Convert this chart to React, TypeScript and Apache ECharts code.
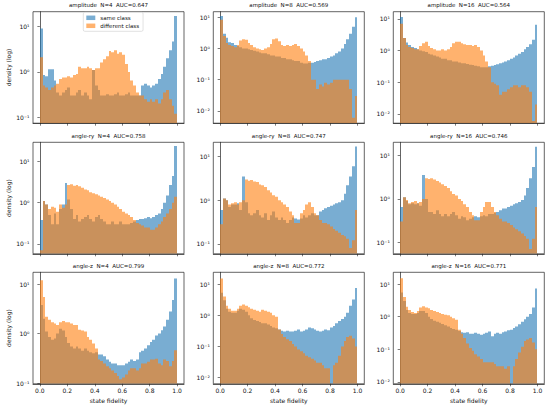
import React, { useEffect, useRef } from "react";
import * as echarts from "echarts";

// ---- data (50 bins of width 0.02 on [0, 1]) ----
const BIN_WIDTH = 0.02;
const X_TICKS = [0, 0.2, 0.4, 0.6, 0.8, 1.0];
const Y_TICKS = [0.01, 0.1, 1, 10];
const LEGEND_NAMES = ["same class", "different class"];
const TITLES = [
  "amplitude  N=4  AUC=0.647",
  "amplitude  N=8  AUC=0.569",
  "amplitude  N=16  AUC=0.564",
  "angle-ry  N=4  AUC=0.758",
  "angle-ry  N=8  AUC=0.747",
  "angle-ry  N=16  AUC=0.746",
  "angle-z  N=4  AUC=0.799",
  "angle-z  N=8  AUC=0.772",
  "angle-z  N=16  AUC=0.771",
];
const Y_MIN = [0.074, 0.004, 0.0051, 0.057, 0.059, 0.054, 0.097, 0.0063, 0.0087];
const Y_MAX = [21.2, 15.2, 16.9, 29.6, 21.3, 20.4, 17.3, 23.8, 23];

const SAME_AMP4 = [
  9.0, 0.85, 0.8, 1.15, 1.15, 0.65, 0.35, 0.3, 0.35, 0.4,
  0.45, 0.3, 0.3, 0.35, 0.4, 0.3, 0.35, 0.3, 0.25, 1.1,
  0.5, 0.4, 0.3, 0.3, 0.32, 0.3, 0.3, 0.32, 0.35, 0.3,
  0.3, 0.32, 0.35, 0.3, 0.3, 0.3, 0.3, 0.5, 0.55, 0.5,
  0.45, 0.5, 0.55, 0.7, 0.9, 1.3, 2.0, 3.0, 4.7, 17,
];
const DIFF_AMP4 = [
  2.1, 0.5, 0.45, 0.4, 0.45, 0.5, 0.55, 0.7, 0.75, 0.75,
  0.8, 0.75, 0.85, 0.9, 1.3, 1.2, 1.2, 1.3, 1.2, 1.1,
  1.2, 1.2, 1.6, 1.9, 2.2, 2.9, 2.7, 3.0, 2.5, 2.7,
  2.4, 1.5, 1.0, 0.65, 0.5, 0.35, 0.3, 0.3, 0.25, 0.22,
  0.25, 0.22, 0.25, 0.2, 0.25, 0.35, 0.4, 0.25, 0.18, 0.12,
];
const SAME_AMP8 = [
  11, 3.0, 2.2, 1.6, 1.5, 1.3, 1.2, 1.1, 1.0, 1.0,
  0.95, 0.9, 0.85, 0.8, 0.75, 0.7, 0.7, 0.65, 0.6, 0.6,
  0.55, 0.55, 0.5, 0.5, 0.45, 0.45, 0.42, 0.4, 0.4, 0.35,
  0.33, 0.33, 0.35, 0.35, 0.37, 0.4, 0.42, 0.45, 0.45, 0.5,
  0.55, 0.6, 0.7, 0.8, 1.0, 1.4, 2.0, 3.0, 5.0, 10,
];
const DIFF_AMP8 = [
  8.4, 2.5, 1.5, 1.3, 1.2, 1.1, 1.3, 1.8, 2.0, 1.9,
  1.5, 1.3, 1.1, 1.0, 0.95, 0.9, 1.0, 1.1, 1.4, 2.0,
  2.1, 1.7, 1.3, 1.2, 1.3, 1.2, 1.3, 1.4, 1.2, 1.0,
  0.8, 0.6, 0.4, 0.1, 0.1, 0.05, 0.07, 0.06, 0.08, 0.07,
  0.08, 0.1, 0.1, 0.1, 0.1, 0.1, 0.1, 0.05, 0.006, 0.03,
];
const SAME_AMP16 = [
  11.5, 2.5, 1.8, 1.5, 1.3, 1.2, 1.1, 1.0, 0.95, 0.9,
  0.8, 0.75, 0.7, 0.65, 0.6, 0.55, 0.55, 0.5, 0.5, 0.45,
  0.45, 0.42, 0.4, 0.4, 0.38, 0.36, 0.35, 0.33, 0.32, 0.3,
  0.3, 0.3, 0.32, 0.33, 0.35, 0.37, 0.4, 0.42, 0.45, 0.5,
  0.55, 0.6, 0.7, 0.8, 0.9, 1.1, 1.3, 1.6, 2.2, 6.5,
];
const DIFF_AMP16 = [
  7.0, 2.5, 1.5, 1.3, 1.2, 1.1, 1.1, 1.4, 1.7, 1.9,
  1.4, 1.2, 1.1, 1.0, 1.0, 1.1, 1.0, 1.1, 1.3, 1.7,
  1.9, 1.9, 1.7, 1.6, 1.5, 1.5, 1.4, 1.5, 1.3, 1.0,
  0.7, 0.45, 0.3, 0.1, 0.09, 0.08, 0.04, 0.05, 0.05, 0.06,
  0.07, 0.08, 0.08, 0.07, 0.08, 0.08, 0.07, 0.05, 0.006, 0.02,
];
const SAME_RY4 = [
  0.38, 1.1, 0.9, 0.5, 0.3, 0.55, 0.3, 0.7, 0.9, 3.0,
  1.2, 0.7, 0.4, 0.5, 0.35, 0.4, 0.45, 0.5, 0.4, 0.35,
  0.45, 0.5, 0.4, 0.35, 0.3, 0.3, 0.35, 0.3, 0.3, 0.35,
  0.3, 0.3, 0.3, 0.32, 0.35, 0.38, 0.4, 0.4, 0.42, 0.45,
  0.42, 0.45, 0.5, 0.55, 0.7, 1.0, 1.5, 2.7, 4.5, 24,
];
const DIFF_RY4 = [
  0.07, 1.1, 0.9, 0.7, 0.8, 0.75, 0.6, 0.9, 0.75, 0.9,
  2.7, 2.8, 2.6, 2.7, 2.5, 2.3, 2.1, 2.0, 1.8, 1.7,
  1.6, 1.5, 1.4, 1.3, 1.2, 1.1, 1.0, 0.9, 0.8, 0.7,
  0.6, 0.55, 0.5, 0.45, 0.38, 0.32, 0.3, 0.28, 0.25, 0.25,
  0.22, 0.22, 0.25, 0.3, 0.35, 0.45, 0.55, 0.7, 1.0, 1.4,
];
const SAME_RY8 = [
  0.6, 1.1, 1.0, 0.7, 0.8, 0.8, 0.85, 0.6, 3.5, 0.9,
  0.5, 0.45, 0.5, 0.6, 0.45, 0.4, 0.5, 0.35, 0.45, 0.55,
  0.4, 0.35, 0.4, 0.35, 0.3, 0.35, 0.4, 0.38, 0.36, 0.38,
  0.45, 0.4, 0.45, 0.5, 0.45, 0.45, 0.55, 0.6, 0.65, 0.7,
  0.75, 0.8, 0.85, 0.9, 1.0, 1.4, 2.2, 3.5, 6.0, 17,
];
const DIFF_RY8 = [
  0.28, 1.1, 1.0, 0.8, 0.85, 0.9, 0.8, 0.9, 1.0, 3.0,
  2.8, 2.9, 2.7, 2.6, 2.3, 2.2, 2.0, 1.7, 1.5, 1.3,
  1.2, 1.0, 0.9, 0.8, 0.7, 0.55, 0.45, 0.3, 0.3, 0.5,
  0.6, 0.8, 0.9, 0.7, 0.5, 0.45, 0.35, 0.3, 0.3, 0.28,
  0.25, 0.22, 0.2, 0.18, 0.16, 0.15, 0.13, 0.08, 0.12, 0.6,
];
const SAME_RY16 = [
  0.65, 1.1, 0.9, 0.75, 0.8, 0.75, 0.8, 0.7, 3.6, 1.0,
  0.5, 0.5, 0.45, 0.55, 0.45, 0.4, 0.45, 0.4, 0.45, 0.5,
  0.42, 0.35, 0.4, 0.38, 0.32, 0.35, 0.38, 0.4, 0.38, 0.4,
  0.42, 0.4, 0.45, 0.45, 0.48, 0.5, 0.55, 0.6, 0.6, 0.65,
  0.7, 0.75, 0.8, 0.85, 0.95, 1.2, 1.8, 3.0, 5.5, 16,
];
const DIFF_RY16 = [
  0.3, 1.1, 0.95, 0.8, 0.85, 0.9, 0.8, 0.85, 1.0, 3.0,
  2.9, 3.0, 2.8, 2.6, 2.4, 2.2, 2.0, 1.8, 1.5, 1.3,
  1.2, 1.0, 0.9, 0.75, 0.65, 0.5, 0.42, 0.32, 0.32, 0.5,
  0.65, 0.85, 0.85, 0.65, 0.5, 0.42, 0.35, 0.3, 0.3, 0.28,
  0.25, 0.22, 0.2, 0.18, 0.16, 0.14, 0.12, 0.07, 0.12, 0.65,
];
const SAME_Z4 = [
  3.8, 2.0, 1.1, 0.85, 0.75, 0.8, 1.0, 1.25, 1.15, 0.85,
  0.65, 0.55, 0.5, 0.55, 0.5, 0.45, 0.5, 0.45, 0.42, 0.4,
  0.42, 0.38, 0.38, 0.35, 0.3, 0.27, 0.25, 0.25, 0.23, 0.23,
  0.23, 0.25, 0.27, 0.3, 0.28, 0.3, 0.42, 0.45, 0.5, 0.58,
  0.68, 0.75, 0.92, 1.0, 1.17, 1.4, 1.9, 2.8, 4.8, 13,
];
const DIFF_Z4 = [
  12, 5.5, 2.2, 1.9, 1.7, 1.6, 1.5, 1.7, 1.8, 1.7,
  1.7, 1.6, 1.5, 1.5, 1.2, 1.15, 1.1, 0.85, 0.75, 0.63,
  0.5, 0.3, 0.28, 0.25, 0.22, 0.2, 0.18, 0.16, 0.14, 0.12,
  0.13, 0.15, 0.18, 0.2, 0.2, 0.18, 0.2, 0.25, 0.25, 0.27,
  0.3, 0.3, 0.31, 0.25, 0.23, 0.3, 0.28, 0.22, 0.28, 0.46,
];
const SAME_Z8 = [
  5.3, 3.0, 1.6, 1.3, 1.2, 1.2, 1.4, 1.6, 1.5, 1.3,
  1.0, 0.8, 0.7, 0.65, 0.6, 0.55, 0.55, 0.5, 0.45, 0.4,
  0.38, 0.35, 0.32, 0.3, 0.32, 0.3, 0.3, 0.32, 0.35, 0.3,
  0.32, 0.35, 0.4, 0.38, 0.35, 0.32, 0.3, 0.32, 0.35, 0.33,
  0.4, 0.45, 0.55, 0.65, 0.75, 0.9, 1.2, 2.0, 3.2, 7.5,
];
const DIFF_Z8 = [
  15, 4.0, 2.0, 1.6, 1.4, 1.4, 1.6, 2.0, 2.2, 2.0,
  1.8, 1.6, 1.5, 1.4, 1.3, 1.5, 1.4, 1.3, 1.2, 1.0,
  0.9, 0.35, 0.25, 0.2, 0.17, 0.15, 0.12, 0.1, 0.08, 0.07,
  0.06, 0.05, 0.045, 0.04, 0.035, 0.03, 0.03, 0.025, 0.02, 0.02,
  0.006, 0.025, 0.03, 0.05, 0.1, 0.15, 0.2, 0.22, 0.18, 0.1,
];
const SAME_Z16 = [
  5.5, 3.0, 1.6, 1.3, 1.2, 1.2, 1.3, 1.5, 1.5, 1.3,
  1.0, 0.85, 0.75, 0.7, 0.65, 0.6, 0.55, 0.5, 0.45, 0.42,
  0.4, 0.36, 0.33, 0.32, 0.33, 0.3, 0.3, 0.32, 0.3, 0.28,
  0.3, 0.32, 0.35, 0.25, 0.3, 0.32, 0.3, 0.33, 0.35, 0.38,
  0.4, 0.45, 0.5, 0.58, 0.7, 0.83, 1.0, 1.2, 1.9, 7.3,
];
const DIFF_Z16 = [
  15, 4.0, 2.0, 1.6, 1.4, 1.3, 1.5, 1.9, 2.1, 1.9,
  1.8, 1.6, 1.5, 1.4, 1.3, 1.2, 1.15, 1.1, 1.0, 0.9,
  0.8, 0.4, 0.3, 0.22, 0.15, 0.11, 0.09, 0.07, 0.06, 0.05,
  0.04, 0.04, 0.04, 0.04, 0.035, 0.03, 0.03, 0.03, 0.025, 0.03,
  0.006, 0.03, 0.05, 0.08, 0.12, 0.18, 0.2, 0.22, 0.16, 0.1,
];

const SAME_SERIES = [SAME_AMP4, SAME_AMP8, SAME_AMP16, SAME_RY4, SAME_RY8, SAME_RY16, SAME_Z4, SAME_Z8, SAME_Z16];
const DIFF_SERIES = [DIFF_AMP4, DIFF_AMP8, DIFF_AMP16, DIFF_RY4, DIFF_RY8, DIFF_RY16, DIFF_Z4, DIFF_Z8, DIFF_Z16];

// ---- layout / style ----
const LEFTS = [33, 213.3, 393.3];
const TOPS = [11.7, 142.3, 272.3];
const PW = 151;
const PH = 111.5;
const BLUE = "rgba(31,119,180,0.6)";
const ORANGE = "rgba(255,127,14,0.6)";
const FONT = "DejaVu Sans";
const INK = "#111";
const SPINE = "#222";

const SUP: Record<string, string> = { "-": "\u207B", "0": "\u2070", "1": "\u00B9", "2": "\u00B2", "3": "\u00B3" };
const logLabel = (v: number) => {
  if (!(v > 0)) return "";
  const e = Math.round(Math.log10(v));
  return "10" + String(e).split("").map((c) => SUP[c] || c).join("");
};

const renderBar = (params: any, api: any) => {
  const x0 = api.value(0);
  const x1 = api.value(1);
  const v = api.value(2);
  const pA = api.coord([x0, v]);
  const pB = api.coord([x1, v]);
  const cs = params.coordSys;
  const bottom = cs.y + cs.height;
  const xa = Math.round(pA[0]);
  const xb = Math.round(pB[0]);
  return {
    type: "rect",
    shape: { x: xa, y: pA[1], width: xb - xa, height: bottom - pA[1] },
    style: { fill: api.visual("color") },
  };
};

const toBins = (vals: number[]) => vals.map((v, i) => [i * BIN_WIDTH, (i + 1) * BIN_WIDTH, v]);

function buildOption() {
  const grid: any[] = [];
  const xAxis: any[] = [];
  const yAxis: any[] = [];
  const series: any[] = [];
  const title: any[] = [];
  for (let k = 0; k < 9; k++) {
    const row = Math.floor(k / 3);
    const col = k % 3;
    grid.push({
      left: LEFTS[col], top: TOPS[row], width: PW, height: PH,
      show: true, borderColor: SPINE, borderWidth: 0.7, backgroundColor: "transparent",
    });
    title.push({
      text: TITLES[k], left: LEFTS[col] + PW / 2, top: TOPS[row] - 9.5, textAlign: "center", padding: 0,
      textStyle: { fontSize: 5.5, fontWeight: "normal", color: INK, fontFamily: FONT },
    });
    xAxis.push({
      type: "value", gridIndex: k, min: -0.05, max: 1.05, z: 10,
      splitLine: { show: false },
      axisLine: { show: true, lineStyle: { color: SPINE, width: 0.7 } },
      axisTick: { show: true, length: 2.5, lineStyle: { color: SPINE, width: 0.6 }, customValues: X_TICKS },
      axisLabel: {
        show: row === 2, customValues: X_TICKS, formatter: (v: number) => v.toFixed(1),
        fontSize: 6, color: INK, margin: 4, fontFamily: FONT,
      },
      name: row === 2 ? "state fidelity" : "", nameLocation: "middle", nameGap: 14,
      nameTextStyle: { fontSize: 6, color: INK, fontFamily: FONT },
    });
    yAxis.push({
      type: "log", logBase: 10, gridIndex: k, min: Y_MIN[k], max: Y_MAX[k],
      splitLine: { show: false },
      minorTick: { show: false },
      axisLine: { show: true, lineStyle: { color: SPINE, width: 0.7 } },
      axisTick: { show: true, length: 2.5, lineStyle: { color: SPINE, width: 0.6 }, customValues: Y_TICKS },
      axisLabel: {
        customValues: Y_TICKS, formatter: logLabel, fontSize: 6, color: INK, margin: 3.5, fontFamily: FONT,
      },
      name: col === 0 ? "density (log)" : "", nameLocation: "middle", nameGap: 22,
      nameTextStyle: { fontSize: 6, color: INK, fontFamily: FONT },
    });
    series.push({
      type: "custom", name: LEGEND_NAMES[0], xAxisIndex: k, yAxisIndex: k, clip: true, z: 2,
      data: toBins(SAME_SERIES[k]), encode: { x: [0, 1], y: 2 },
      itemStyle: { color: BLUE }, renderItem: renderBar,
    });
    series.push({
      type: "custom", name: LEGEND_NAMES[1], xAxisIndex: k, yAxisIndex: k, clip: true, z: 3,
      data: toBins(DIFF_SERIES[k]), encode: { x: [0, 1], y: 2 },
      itemStyle: { color: ORANGE }, renderItem: renderBar,
    });
  }
  return {
    animation: false,
    backgroundColor: "#fff",
    textStyle: { fontFamily: FONT },
    title,
    grid,
    xAxis,
    yAxis,
    series,
    legend: {
      data: LEGEND_NAMES.map((n) => ({ name: n, icon: "rect" })),
      orient: "vertical", left: 83.3, top: 12.3,
      itemWidth: 9, itemHeight: 4.5, itemGap: 2,
      padding: [2.5, 4, 2.5, 3],
      textStyle: { fontSize: 5.5, color: INK, fontFamily: FONT },
      borderColor: "#ccc", borderWidth: 0.6, borderRadius: 1.5,
      backgroundColor: "rgba(255,255,255,0.8)", selectedMode: false,
    },
  };
}

export default function App() {
  const ref = useRef<HTMLDivElement>(null);
  useEffect(() => {
    if (!ref.current) return;
    const chart = echarts.init(ref.current, undefined, { renderer: "svg" });
    chart.setOption(buildOption() as any);
    return () => chart.dispose();
  }, []);
  return (
    <div
      ref={ref}
      style={{ position: "absolute", left: 0, top: 0, width: 550, height: 408, background: "#fff" }}
    />
  );
}
